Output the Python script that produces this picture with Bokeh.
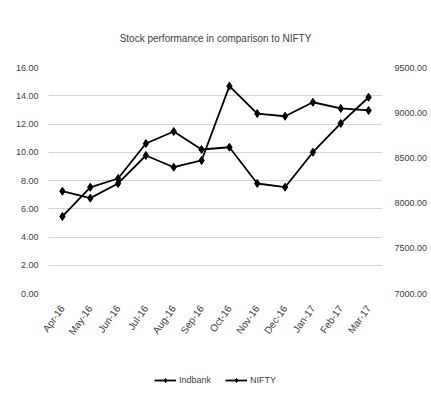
import math
from bokeh.plotting import figure
from bokeh.layouts import column
from bokeh.models import Range1d, LinearAxis, FixedTicker, NumeralTickFormatter, Legend, LegendItem, FactorRange
from bokeh.embed import file_html
from bokeh.resources import INLINE

months = ["Apr-16", "May-16", "Jun-16", "Jul-16", "Aug-16", "Sep-16",
          "Oct-16", "Nov-16", "Dec-16", "Jan-17", "Feb-17", "Mar-17"]
indbank = [7.24, 6.75, 7.79, 9.77, 8.94, 9.42, 14.68, 12.74, 12.55, 13.54, 13.10, 12.96]
nifty = [7852, 8175, 8272, 8659, 8792, 8593, 8618, 8217, 8176, 8563, 8881, 9171]
left_ticks = [0, 2, 4, 6, 8, 10, 12, 14, 16]
right_ticks = [7000, 7500, 8000, 8500, 9000, 9500]
series_names = ["Indbank", "NIFTY"]

FONT = "Liberation Sans"
TXT = "#404040"

p = figure(width=431, height=355, x_range=FactorRange(factors=months),
           y_range=Range1d(0, 16), output_backend="svg", toolbar_location=None,
           min_border_left=48, min_border_right=49, min_border_top=67, min_border_bottom=62,
           title="Stock performance in comparison to NIFTY")
p.title.align = "center"
p.title.text_font = FONT
p.title.text_font_size = "10px"
p.title.text_font_style = "normal"
p.title.text_color = TXT
p.title.standoff = 48
p.outline_line_color = None
p.background_fill_color = "white"
p.border_fill_color = "white"

p.extra_y_ranges = {"nifty": Range1d(7000, 9500)}

p.yaxis.ticker = FixedTicker(ticks=left_ticks)
p.yaxis.formatter = NumeralTickFormatter(format="0.00")
ax = p.yaxis[0]
ax.axis_line_color = None
ax.major_tick_line_color = None
ax.minor_tick_line_color = None
ax.major_label_text_font = FONT
ax.major_label_text_font_size = "9px"
ax.major_label_text_color = TXT
ax.major_label_standoff = 4

r_axis = LinearAxis(y_range_name="nifty", ticker=FixedTicker(ticks=right_ticks),
                    formatter=NumeralTickFormatter(format="0.00"))
r_axis.axis_line_color = None
r_axis.major_tick_line_color = None
r_axis.minor_tick_line_color = None
r_axis.major_label_text_font = FONT
r_axis.major_label_text_font_size = "9px"
r_axis.major_label_text_color = TXT
r_axis.major_label_standoff = 6
p.add_layout(r_axis, "right")

xa = p.xaxis[0]
xa.axis_line_color = None
xa.major_tick_line_color = None
xa.minor_tick_line_color = None
xa.major_label_orientation = 0.95
xa.major_label_text_font = FONT
xa.major_label_text_font_size = "10px"
xa.major_label_text_color = TXT
xa.major_label_standoff = 7

p.xgrid.grid_line_color = None
p.ygrid.grid_line_color = "#d4d4d4"
p.ygrid.ticker = FixedTicker(ticks=left_ticks)

p.line(months, indbank, line_color="black", line_width=1.8)
p.scatter(months, indbank, marker="diamond", size=8, fill_color="black", line_color="black")
p.line(months, nifty, line_color="black", line_width=1.8, y_range_name="nifty")
p.scatter(months, nifty, marker="diamond", size=8, fill_color="black", line_color="black", y_range_name="nifty")

# legend strip below the chart (series drawn out of view, only the legend shows)
lg = figure(width=431, height=50, x_range=FactorRange(factors=months), y_range=Range1d(-200, -199),
            output_backend="svg", toolbar_location=None,
            min_border_left=0, min_border_right=0, min_border_top=0, min_border_bottom=0)
lg.axis.visible = False
lg.grid.visible = False
lg.outline_line_color = None
lg.border_fill_color = "white"
lg.background_fill_color = "white"
lg.extra_y_ranges = {"nifty": Range1d(-200, -199)}
items = []
for name, vals, rng in [(series_names[0], indbank, "default"), (series_names[1], nifty, "nifty")]:
    lr = lg.line(months, vals, line_color="black", line_width=1.8, y_range_name=rng)
    sr = lg.scatter(months, vals, marker="diamond", size=8, fill_color="black", line_color="black",
                    y_range_name=rng)
    items.append(LegendItem(label=name, renderers=[lr, sr]))
legend = Legend(items=items, orientation="horizontal", location="center",
                label_text_font=FONT, label_text_font_size="9px", label_text_color=TXT,
                glyph_width=22, glyph_height=10, spacing=14, label_standoff=3,
                border_line_color=None, background_fill_alpha=0, padding=0, margin=0)
lg.add_layout(legend, "center")

layout = column(p, lg, spacing=0)
open("out.html", "w").write(file_html(layout, INLINE))
